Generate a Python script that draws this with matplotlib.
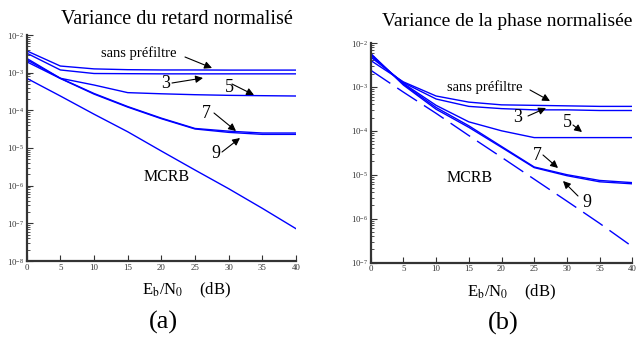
import matplotlib
matplotlib.use("Agg")
import matplotlib.pyplot as plt
from matplotlib.ticker import LogLocator, NullFormatter, FixedLocator

plt.rcParams['font.family'] = ['Liberation Serif', 'DejaVu Serif']
plt.rcParams['mathtext.fontset'] = 'stix'

# ---------------- data ----------------
ebn0 = [0, 5, 10, 15, 20, 25, 30, 35, 40]

# (a) Variance du retard normalisé
sans_a = [3.8e-3, 1.5e-3, 1.26e-3, 1.2e-3, 1.18e-3, 1.18e-3, 1.17e-3, 1.17e-3, 1.17e-3]
p3_a = [3.3e-3, 1.18e-3, 9.5e-4, 9.4e-4, 9.3e-4, 9.3e-4, 9.3e-4, 9.3e-4, 9.3e-4]
p5_a = [2.4e-3, 7.1e-4, 4.7e-4, 2.95e-4, 2.75e-4, 2.6e-4, 2.5e-4, 2.45e-4, 2.4e-4]
p7_a = [2.2e-3, 7.1e-4, 2.8e-4, 1.26e-4, 6.2e-5, 3.3e-5, 2.8e-5, 2.5e-5, 2.5e-5]
p9_a = [1.95e-3, 7.0e-4, 2.7e-4, 1.22e-4, 6.0e-5, 3.2e-5, 2.6e-5, 2.3e-5, 2.3e-5]
mcrb_a = [7.1e-4, 2.4e-4, 7.9e-5, 2.7e-5, 8.3e-6, 2.6e-6, 8.3e-7, 2.5e-7, 7.2e-8]

# (b) Variance de la phase normalisée
sans_b = [4.0e-3, 1.3e-3, 6.2e-4, 4.5e-4, 3.9e-4, 3.8e-4, 3.7e-4, 3.6e-4, 3.6e-4]
p3_b = [4.8e-3, 1.25e-3, 5.3e-4, 3.6e-4, 3.2e-4, 3.0e-4, 3.0e-4, 2.9e-4, 2.9e-4]
p5_b = [5.2e-3, 1.2e-3, 3.8e-4, 1.6e-4, 1.0e-4, 7.0e-5, 7.0e-5, 7.0e-5, 7.0e-5]
p7_b = [5.6e-3, 1.15e-3, 3.4e-4, 1.3e-4, 4.4e-5, 1.5e-5, 1.0e-5, 7.4e-6, 6.6e-6]
p9_b = [5.8e-3, 1.1e-3, 3.1e-4, 1.2e-4, 4.2e-5, 1.45e-5, 9.5e-6, 6.9e-6, 6.2e-6]
mcrb_b = [2.4e-3, 7.6e-4, 2.5e-4, 7.8e-5, 2.5e-5, 7.9e-6, 2.5e-6, 7.8e-7, 2.3e-7]

xticks = [0, 5, 10, 15, 20, 25, 30, 35, 40]

W, H = 640, 338
fig = plt.figure(figsize=(W / 100, H / 100), dpi=100)


def px(x, y):
    return (x / W, 1 - y / H)


ax1 = fig.add_axes([26.7 / W, 1 - 261 / H, 269.3 / W, 226 / H])
ax2 = fig.add_axes([370.7 / W, 1 - 262.5 / H, 261.6 / W, 219.5 / H])

blue = '#0000ff'
for ax, series, mcrb, ylim in [
    (ax1, [sans_a, p3_a, p5_a, p7_a, p9_a], mcrb_a, (1e-8, 1e-2)),
    (ax2, [sans_b, p3_b, p5_b, p7_b, p9_b], mcrb_b, (1e-7, 1e-2)),
]:
    for s in series:
        ax.plot(ebn0, s, color=blue, lw=1.0)
    if ax is ax1:
        ax.plot(ebn0, mcrb, color=blue, lw=1.0)
    else:
        ax.plot(ebn0, mcrb, color=blue, lw=1.0, dashes=(17, 6))
    ax.set_yscale('log')
    ax.set_xlim(0, 40)
    ax.set_ylim(*ylim)
    ax.xaxis.set_major_locator(FixedLocator(xticks))
    ax.yaxis.set_major_locator(LogLocator(base=10, numticks=20))
    ax.yaxis.set_minor_locator(LogLocator(base=10, subs=range(2, 10), numticks=20))
    ax.yaxis.set_minor_formatter(NullFormatter())
    for sp in ['top', 'right']:
        ax.spines[sp].set_visible(False)
    for sp in ['left', 'bottom']:
        ax.spines[sp].set_linewidth(1.6)
        ax.spines[sp].set_color('#333333')
    ax.tick_params(axis='both', which='major', direction='in', length=4, width=0.8,
                   labelsize=6.3, colors='#333333', pad=2)
    ax.tick_params(axis='y', which='minor', direction='in', length=2, width=0.6,
                   colors='#333333')
    ax.tick_params(axis='x', which='minor', bottom=False)
    ax.patch.set_alpha(0)

arrow = dict(arrowstyle='-|>', color='k', lw=0.8, mutation_scale=11, shrinkA=0, shrinkB=0)

# ----- texts panel (a)
fig.text(*px(177, 20), 'Variance du retard normalisé', ha='center', va='center', fontsize=14.5)
fig.text(*px(139, 53), 'sans préfiltre', ha='center', va='center', fontsize=10.5)
fig.text(*px(166, 84), '3', ha='center', va='center', fontsize=13)
fig.text(*px(229, 87), '5', ha='center', va='center', fontsize=13)
fig.text(*px(206, 113), '7', ha='center', va='center', fontsize=13)
fig.text(*px(216, 153), '9', ha='center', va='center', fontsize=13)
fig.text(*px(167, 177), 'MCRB', ha='center', va='center', fontsize=11.5)
for (x0, y0), (x1, y1) in [((185, 57), (212, 68)), ((172, 83), (203, 78)),
                           ((232, 84), (254, 95)), ((214, 113), (236, 131)),
                           ((222, 152), (240, 138))]:
    fig.add_artist(matplotlib.patches.FancyArrowPatch(px(x0, y0), px(x1, y1),
                                                      transform=fig.transFigure, **arrow))
fig.text(*px(187, 290), r'E$_\mathrm{b}$/N$_0$    (dB)', ha='center', va='center', fontsize=12)
fig.text(*px(163, 322), '(a)', ha='center', va='center', fontsize=19)

# ----- texts panel (b)
fig.text(*px(507, 22), 'Variance de la phase normalisée', ha='center', va='center', fontsize=14)
fig.text(*px(485, 87), 'sans préfiltre', ha='center', va='center', fontsize=10.5)
fig.text(*px(518, 117), '3', ha='center', va='center', fontsize=13)
fig.text(*px(567, 122), '5', ha='center', va='center', fontsize=13)
fig.text(*px(537, 155), '7', ha='center', va='center', fontsize=13)
fig.text(*px(587, 202), '9', ha='center', va='center', fontsize=13)
fig.text(*px(470, 178), 'MCRB', ha='center', va='center', fontsize=11.5)
for (x0, y0), (x1, y1) in [((530, 90), (550, 101)), ((528, 116), (546, 108)),
                           ((573, 125), (582, 132)), ((543, 155), (558, 168)),
                           ((578, 196), (563, 181))]:
    fig.add_artist(matplotlib.patches.FancyArrowPatch(px(x0, y0), px(x1, y1),
                                                      transform=fig.transFigure, **arrow))
fig.text(*px(512, 292), r'E$_\mathrm{b}$/N$_0$    (dB)', ha='center', va='center', fontsize=12)
fig.text(*px(503, 323), '(b)', ha='center', va='center', fontsize=19)

fig.savefig('out.png', dpi=100)
